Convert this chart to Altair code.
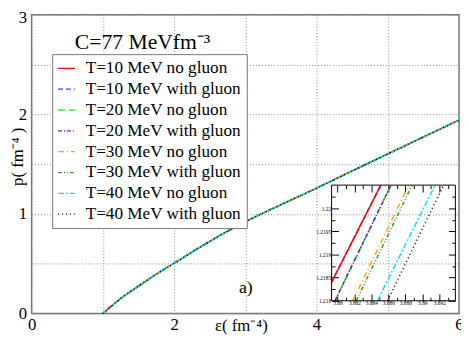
import altair as alt
import pandas as pd

# ---------------- data ----------------
series = ["T=10 MeV no gluon", "T=10 MeV with gluon", "T=20 MeV no gluon", "T=20 MeV with gluon",
          "T=30 MeV no gluon", "T=30 MeV with gluon", "T=40 MeV no gluon", "T=40 MeV with gluon"]
colors = ["#ff0000", "#3c3cff", "#00ee00", "#9400d3", "#ffa500", "#2ca02c", "#00e8ee", "#000000"]
dashes = [[1, 0], [5, 3], [7, 4], [4, 2, 1, 2], [6, 3, 1, 3], [4, 2, 1, 2, 1, 2], [6, 2, 2, 2], [1, 3]]

# main curve (all series overlap at this scale)
eps_main = [1.0, 1.1, 1.25, 1.5, 1.75, 2.0, 2.5, 3.0, 3.5, 4.0, 4.5, 5.0, 5.5, 6.0]
p_main = [0.0, 0.062, 0.15, 0.275, 0.395, 0.505, 0.725, 0.922, 1.093, 1.26, 1.432, 1.603, 1.773, 1.943]

# inset: end points of each series inside the zoom window
inset_eps_start = [3.8793, 3.8793, 3.8797, 3.8797, 3.8818, 3.8822, 3.8847, 3.8859]
inset_p_start = [1.2184, 1.2184, 1.2180, 1.2180, 1.2180, 1.2180, 1.2180, 1.2180]
inset_eps_end = [3.8851, 3.8851, 3.8863, 3.8863, 3.8884, 3.8888, 3.8915, 3.8925]
inset_p_end = [1.2205, 1.2205, 1.2205, 1.2205, 1.2205, 1.2205, 1.2205, 1.2205]

inset_x_domain = [3.8793, 3.8939]
inset_y_domain = [1.218, 1.2205]
inset_x_major = [3.88, 3.882, 3.884, 3.886, 3.888, 3.89, 3.892]
inset_x_minor = [3.881, 3.883, 3.885, 3.887, 3.889, 3.891, 3.893]
inset_y_major = [1.218, 1.2185, 1.219, 1.2195, 1.22]
inset_y_minor = [1.21825, 1.21875, 1.21925, 1.21975, 1.22025]

title_text = ["C=77 MeVfm⁻³"]
title_eps = [0.607]
title_p = [2.658]
panel_text = ["a)"]
panel_eps = [2.91]
panel_p = [0.207]

# ---------------- tables ----------------
rows = []
for s in series:
    for e, p in zip(eps_main, p_main):
        rows.append({"series": s, "eps": e, "p": p})
df_main = pd.DataFrame(rows)

inset_order = [1, 0, 2, 3, 4, 5, 6, 7]  # red drawn over blue
irows = []
for i in inset_order:
    irows.append({"series": series[i], "eps": inset_eps_start[i], "p": inset_p_start[i]})
    irows.append({"series": series[i], "eps": inset_eps_end[i], "p": inset_p_end[i]})
df_inset = pd.DataFrame(irows)

df_frame = pd.DataFrame({"x0": [inset_x_domain[0]], "x1": [inset_x_domain[1]],
                         "y0": [inset_y_domain[0]], "y1": [inset_y_domain[1]]})
df_title = pd.DataFrame({"eps": title_eps, "p": title_p, "t": title_text})
df_panel = pd.DataFrame({"eps": panel_eps, "p": panel_p, "t": panel_text})

FONT = "Liberation Serif"
W, H = 435, 304
IX_RANGE = [305.3, 431.3]
IY_RANGE = [291.0, 173.3]
LMAJ, LMIN = 7, 3.5

color_scale = alt.Scale(domain=series, range=colors)
dash_scale = alt.Scale(domain=series, range=dashes)

legend = alt.Legend(orient="none", legendX=21, legendY=40, title=None,
                    strokeColor="#777777", fillColor="white", padding=5,
                    labelFont=FONT, labelFontSize=17.5, labelColor="black",
                    symbolType="stroke", symbolSize=289, symbolStrokeWidth=1.3,
                    rowPadding=3.2, labelOffset=10, labelLimit=400, cornerRadius=0)

# ---------------- main chart ----------------
main_x = alt.Scale(domain=[0, 6], nice=False, zero=False)
main_y = alt.Scale(domain=[0, 3], nice=False, zero=False)

x_axis = alt.Axis(orient="bottom", values=[0, 1, 2, 3, 4, 5, 6], format="~g",
                  labelExpr="datum.value % 2 == 0 ? datum.label : ''",
                  grid=True, gridDash=[1, 2], gridColor="#888888", gridWidth=1,
                  domain=False, ticks=False, labelFont=FONT, labelFontSize=17,
                  labelColor="black", labelPadding=3, labelFlush=False,
                  title="ε( fm⁻⁴)", titleFont=FONT, titleFontSize=17,
                  titleFontWeight="normal", titleColor="black",
                  titleX=213, titleY=17, titleBaseline="alphabetic")
y_axis = alt.Axis(orient="left", values=[0, 0.5, 1, 1.5, 2, 2.5, 3], format="~g",
                  labelExpr="datum.value % 1 == 0 ? datum.label : ''",
                  labelOffset={"condition": {"test": "datum.value == 3", "value": 2.5}, "value": 0},
                  grid=True, gridDash=[1, 2], gridColor="#888888", gridWidth=1,
                  domain=False, ticks=False, labelFont=FONT, labelFontSize=17,
                  labelColor="black", labelPadding=5, labelFlush=False,
                  title="p( fm⁻⁴ )", titleFont=FONT, titleFontSize=17,
                  titleFontWeight="normal", titleColor="black", titleAngle=270,
                  titleX=-9, titleY=144, titleAlign="center", titleBaseline="alphabetic")

main_lines = alt.Chart(df_main).mark_line(strokeWidth=1.4, interpolate="monotone").encode(
    x=alt.X("eps:Q", scale=main_x, axis=x_axis),
    y=alt.Y("p:Q", scale=main_y, axis=y_axis),
    color=alt.Color("series:N", scale=color_scale, legend=legend, sort=series),
    strokeDash=alt.StrokeDash("series:N", scale=dash_scale, legend=legend, sort=series),
)
title_mark = alt.Chart(df_title).mark_text(font=FONT, fontSize=22, align="left",
                                           baseline="alphabetic", color="black").encode(
    x="eps:Q", y="p:Q", text="t:N")
panel_mark = alt.Chart(df_panel).mark_text(font=FONT, fontSize=18, align="left",
                                           baseline="alphabetic", color="black").encode(
    x="eps:Q", y="p:Q", text="t:N")
main_layer = alt.layer(main_lines, title_mark, panel_mark)


# ---------------- inset ----------------
def ixs():
    return alt.Scale(domain=inset_x_domain, range=IX_RANGE, nice=False, zero=False)


def iys():
    return alt.Scale(domain=inset_y_domain, range=IY_RANGE, nice=False, zero=False)


def iaxis(orient, offset, values, size, labels=False, pad=0):
    kw = dict(orient=orient, offset=offset, values=values, tickSize=size, grid=False,
              domain=False, ticks=True, tickColor="black", tickWidth=1, title=None,
              labels=labels)
    if labels:
        kw.update(labelFont=FONT, labelFontSize=5.5, labelColor="black",
                  labelPadding=pad, format="~g", labelFlush=False, labelOverlap=False)
    return alt.Axis(**kw)


inset_lines = alt.Chart(df_inset).mark_line(strokeWidth=1.5).encode(
    x=alt.X("eps:Q", scale=ixs(),
            axis=iaxis("bottom", -(H - IY_RANGE[0]) - LMAJ, inset_x_major, LMAJ, True, 0)),
    y=alt.Y("p:Q", scale=iys(),
            axis=iaxis("left", -(IX_RANGE[0] + LMAJ), inset_y_major, LMAJ, True, 1)),
    color=alt.Color("series:N", scale=color_scale, sort=series),
    strokeDash=alt.StrokeDash("series:N", scale=dash_scale, sort=series),
)
inset_frame = alt.Chart(df_frame).mark_rect(fillOpacity=0, stroke="black", strokeWidth=1).encode(
    x="x0:Q", x2="x1:Q", y="y0:Q", y2="y1:Q")
L1 = alt.layer(inset_lines, inset_frame)


def ghost(xaxis, yaxis):
    return alt.Chart(df_frame).mark_point(opacity=0).encode(
        x=alt.X("x0:Q", scale=ixs(), axis=xaxis),
        y=alt.Y("y0:Q", scale=iys(), axis=yaxis))


L2 = ghost(iaxis("bottom", -(H - IY_RANGE[0]) - LMIN, inset_x_minor, LMIN),
           iaxis("left", -(IX_RANGE[0] + LMIN), inset_y_minor, LMIN))
L3 = ghost(iaxis("top", -(IY_RANGE[1] + LMAJ), inset_x_major, LMAJ),
           iaxis("right", (IX_RANGE[1] - LMAJ) - W, inset_y_major, LMAJ))
L4 = ghost(iaxis("top", -(IY_RANGE[1] + LMIN), inset_x_minor, LMIN),
           iaxis("right", (IX_RANGE[1] - LMIN) - W, inset_y_minor, LMIN))

chart = alt.layer(main_layer, L1, L2, L3, L4).resolve_scale(
    x="independent", y="independent"
).properties(
    width=W, height=H,
    padding={"left": 24, "top": 4, "right": 2, "bottom": 26},
    autosize=alt.AutoSizeParams(type="none"),
).configure_view(
    stroke="#777777", strokeWidth=1.5
).configure_axis(
    labelFont=FONT, titleFont=FONT
).configure_legend(
    labelFont=FONT, titleFont=FONT
).configure_text(
    font=FONT
)

chart.save("out.html", embed_options={"renderer": "svg", "actions": False})
